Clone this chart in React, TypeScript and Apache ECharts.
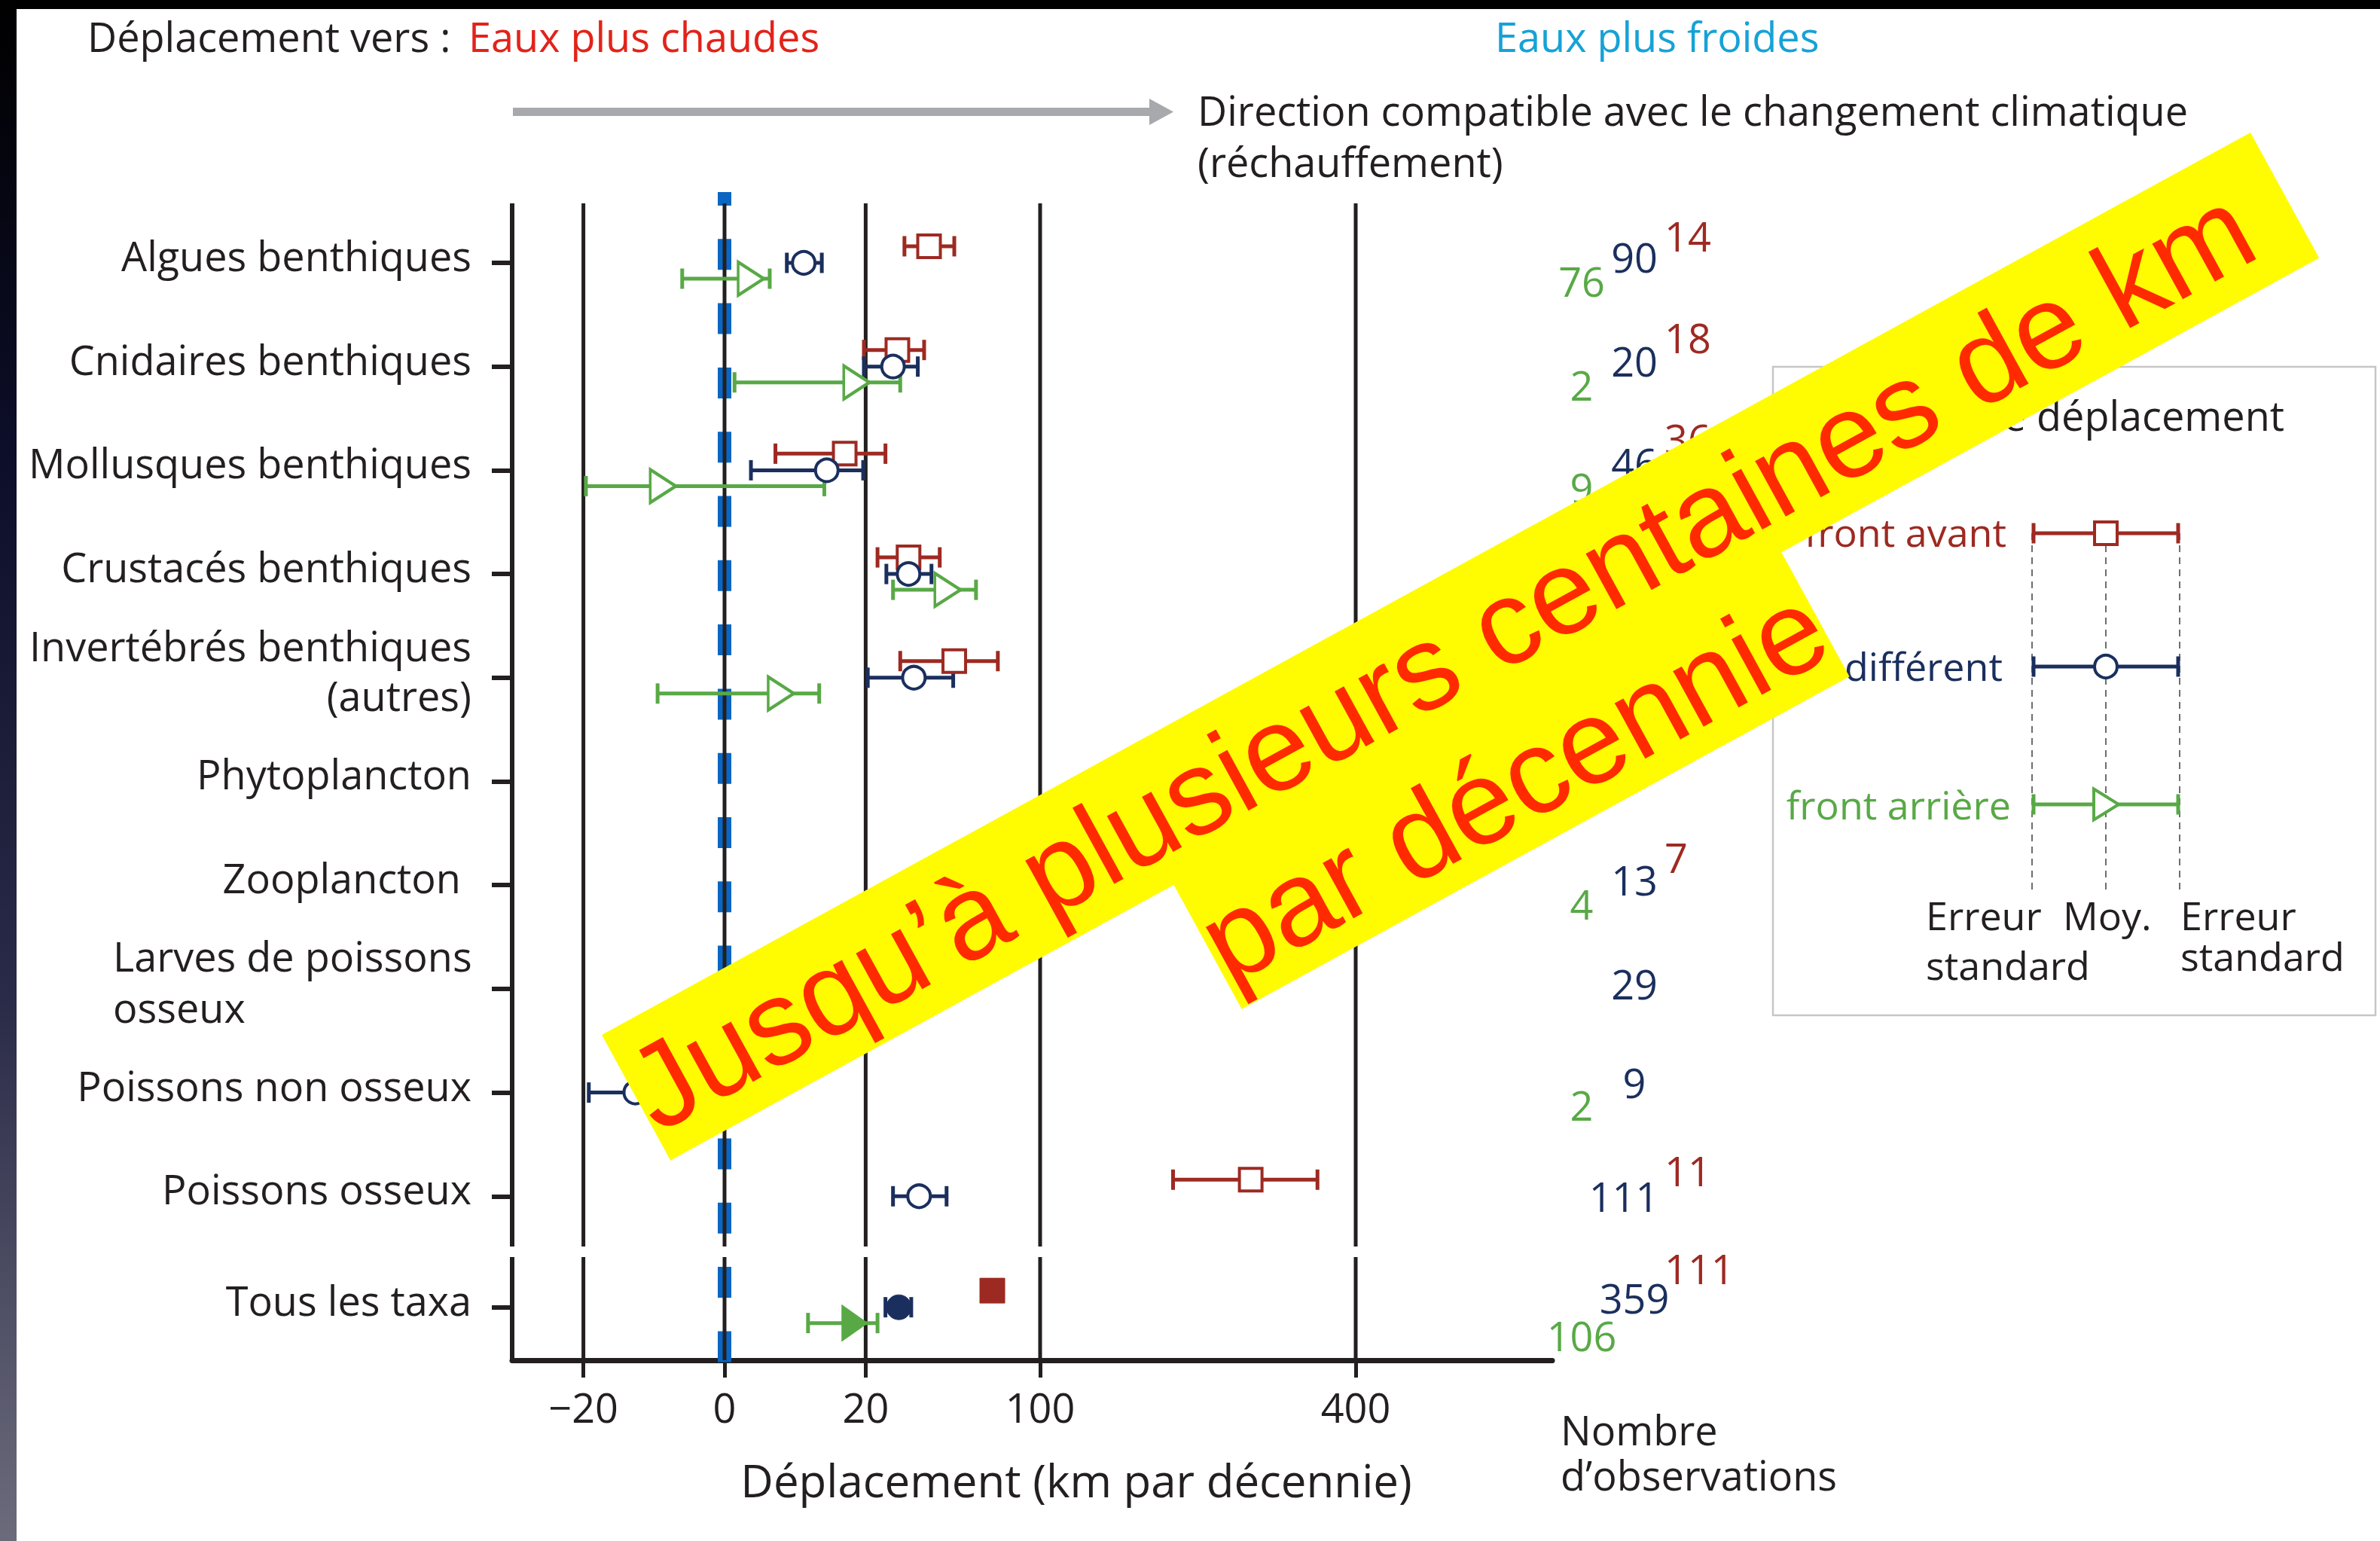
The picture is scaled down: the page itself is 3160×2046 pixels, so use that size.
import React, { useEffect, useRef } from 'react';
import * as echarts from 'echarts';

// ---------------- data ----------------
const CATEGORIES = [
  'Algues benthiques',
  'Cnidaires benthiques',
  'Mollusques benthiques',
  'Crustacés benthiques',
  'Invertébrés benthiques\n(autres)',
  'Phytoplancton',
  'Zooplancton',
  'Larves de poissons\nosseux',
  'Poissons non osseux',
  'Poissons osseux',
  'Tous les taxa',
];
// row positions on the category (value) axis; the last row sits a little lower
const ROW_POS = [0, 1, 2, 3, 4, 5, 6, 7, 8, 9, 10.07];

// front avant (leading edge), km per decade
const LEAD_MEAN = [42, 30, 14.5, 34, 53, 470, 142, null, null, 278, 72];
const LEAD_LO = [32.5, 19.5, 2.6, 23.5, 31, 355, 113, null, null, 202, 69];
const LEAD_HI = [53, 40, 26, 46.5, 75, 585, 171, null, null, 353, 75];
// centre / différent
const CENTRE_MEAN = [6.3, 28.5, 10.5, 34, 36, null, 60, 30, -8, 38, 30.5];
const CENTRE_LO = [3.9, 19.5, 0.7, 26.3, 20.6, null, 45, 18, -18.5, 28.5, 26];
const CENTRE_HI = [9.5, 37.5, 19.3, 43, 52.5, null, 78, 43, 1, 49.5, 35];
// front arrière (trailing edge)
const TRAIL_MEAN = [0.7, 17.5, -3.8, 50, 3.2, null, 45, null, -2, null, 17];
const TRAIL_LO = [-1.8, 0.1, -19.3, 28.5, -4.5, null, 35, null, -5, null, 7];
const TRAIL_HI = [2.05, 31, 10, 63.5, 9, null, 56, null, 0, null, 23.5];

// number of observations
const N_LEAD = [14, 18, 36, 13, 12, null, 7, null, null, 11, 111];
const N_CENTRE = [90, 20, 46, 15, 18, null, 13, 29, 9, 111, 359];
const N_TRAIL = [76, 2, 9, 7, 6, null, 4, null, 2, null, 106];

const X_TICKS = [-20, 0, 20, 100, 400];
const X_TICK_LABELS = ['−20', '0', '20', '100', '400'];

// ---------------- layout / style ----------------
const FONT = "'Open Sans', 'Noto Sans', sans-serif";
const BANNER_FONT = "'Liberation Sans', Arial, sans-serif";
const DARK = '#231f20';
const RED = '#9d2a22';
const BLUE = '#1b2f5e';
const GREEN = '#58a946';
const ZERO_BLUE = '#0b66c3';
const YELLOW = '#fffb00';

const LEAD_DY = [-36, -39, -42, -37, -37, -37, -37, -37, -37, -34, -52];
const CENTRE_DY = [-8, -8, -10, -8, -8, -8, -7, -7, -14, 0, -13];
const TRAIL_DY = [24, 24, 23, 24, 24, 24, 25, 24, 16, 24, 37];
const CENTRE_X_SHIFT = [0, 0, 0, 0, 0, 0, 0, 0, 0, -14, 0];

const X_MIN = -6.73;
const X_MAX = 26.229;
const Y_MIN = -0.5737;
const Y_MAX = 10.581;
const Y_GAP1 = 9.4844;
const Y_GAP2 = 9.586;
const OFF_LEAD = -0.16;
const OFF_TRAIL = 0.1525;

const toT = (v: number) => Math.sign(v) * Math.sqrt(Math.abs(v));

function errorBarSeries(lo: (number | null)[], hi: (number | null)[], off: number, color: string) {
  const data: number[][] = [];
  lo.forEach((l, i) => {
    const h = hi[i];
    if (l == null || h == null) return;
    data.push([toT(l), toT(h), ROW_POS[i] + off]);
  });
  return {
    type: 'custom',
    z: 3,
    silent: true,
    clip: false,
    data,
    renderItem: (params: any, api: any) => {
      const y = api.value(2);
      const a = api.coord([api.value(0), y]);
      const b = api.coord([api.value(1), y]);
      const c = 13.5;
      const st = { stroke: color, lineWidth: 5 };
      return {
        type: 'group',
        children: [
          { type: 'line', shape: { x1: a[0], y1: a[1], x2: b[0], y2: b[1] }, style: st },
          { type: 'line', shape: { x1: a[0], y1: a[1] - c, x2: a[0], y2: a[1] + c }, style: st },
          { type: 'line', shape: { x1: b[0], y1: b[1] - c, x2: b[0], y2: b[1] + c }, style: st },
        ],
      };
    },
  };
}

function markerSeries(mean: (number | null)[], off: number, color: string, symbol: string, size: any, rotate: number) {
  const last = CATEGORIES.length - 1;
  const data: any[] = [];
  mean.forEach((m, i) => {
    if (m == null) return;
    const item: any = { value: [toT(m), ROW_POS[i] + off] };
    if (i === last) {
      item.itemStyle = { color, borderColor: color, borderWidth: 1 };
      item.symbolSize = Array.isArray(size) ? [size[0] + 4, size[1]] : size + 3;
    }
    data.push(item);
  });
  return {
    type: 'scatter',
    z: 4,
    silent: true,
    symbol,
    symbolSize: size,
    symbolRotate: rotate,
    itemStyle: { color: '#ffffff', borderColor: color, borderWidth: 4, opacity: 1 },
    data,
  };
}

function countSeries(counts: (number | null)[], dy: number[], dx: number[] | null, x: number, align: string, color: string) {
  const data: number[][] = [];
  counts.forEach((n, i) => {
    if (n == null) return;
    data.push([ROW_POS[i], n, dy[i], dx ? dx[i] : 0]);
  });
  return {
    type: 'custom',
    z: 4,
    silent: true,
    clip: false,
    data,
    renderItem: (params: any, api: any) => {
      const y = api.coord([0, api.value(0)])[1];
      return {
        type: 'text',
        x: x + api.value(3),
        y: y + api.value(2),
        style: {
          text: String(api.value(1)),
          fill: color,
          fontSize: 54,
          fontFamily: FONT,
          align,
          verticalAlign: 'middle',
        },
      };
    },
  };
}

function buildOption() {
  const gridX = [X_MIN, ...X_TICKS.map(toT)];
  const vlineData: number[][] = [];
  gridX.forEach((x, k) => {
    const w = k === 0 ? 6 : 5;
    vlineData.push([x, Y_MIN, Y_GAP1, w]);
    vlineData.push([x, Y_GAP2, Y_MAX, w]);
  });

  const textEl = (x: number, y: number, text: string, fill: string, size = 54, align = 'left') => ({
    type: 'text',
    x,
    y,
    z: 20,
    style: { text, fill, fontSize: size, fontFamily: FONT, align, verticalAlign: 'middle' },
  });

  const legendBar = (y: number, color: string) => [
    { type: 'line', z: 21, shape: { x1: 2700, y1: y, x2: 2892, y2: y }, style: { stroke: color, lineWidth: 5 } },
    { type: 'line', z: 21, shape: { x1: 2700, y1: y - 13.5, x2: 2700, y2: y + 13.5 }, style: { stroke: color, lineWidth: 5 } },
    { type: 'line', z: 21, shape: { x1: 2892, y1: y - 13.5, x2: 2892, y2: y + 13.5 }, style: { stroke: color, lineWidth: 5 } },
  ];

  const graphics: any[] = [
    // frame strips
    { type: 'rect', z: 200, shape: { x: 0, y: 0, width: 3160, height: 12 }, style: { fill: '#000' } },
    {
      type: 'rect', z: 200, shape: { x: 0, y: 0, width: 22, height: 2046 },
      style: {
        fill: new echarts.graphic.LinearGradient(0, 0, 0, 1, [
          { offset: 0, color: '#000000' },
          { offset: 0.3, color: '#0d0e2a' },
          { offset: 0.65, color: '#2a2b48' },
          { offset: 1, color: '#6c6b7c' },
        ]),
      },
    },
    // header
    textEl(116, 48, 'Déplacement vers :', DARK),
    textEl(622, 48, 'Eaux plus chaudes', '#e2231a'),
    textEl(1985, 48, 'Eaux plus froides', '#16a2d6'),
    { type: 'line', z: 20, shape: { x1: 681, y1: 148.5, x2: 1530, y2: 148.5 }, style: { stroke: '#a7a9ac', lineWidth: 11 } },
    { type: 'polygon', z: 20, shape: { points: [[1526, 131], [1558, 148.5], [1526, 166]] }, style: { fill: '#a7a9ac' } },
    textEl(1590, 146, 'Direction compatible avec le changement climatique', DARK),
    textEl(1590, 214, '(réchauffement)', DARK),
    // observations title
    textEl(2072, 1898, 'Nombre', DARK),
    textEl(2072, 1958, 'd’observations', DARK),
    // legend box
    { type: 'rect', z: 10, shape: { x: 2354, y: 487, width: 800, height: 861 }, style: { fill: '#fff', stroke: '#c6c6c6', lineWidth: 2.5 } },
    textEl(3033, 551, 'Type de déplacement', DARK, 54, 'right'),
    textEl(2664, 705, 'front avant', RED, 52, 'right'),
    textEl(2659, 883, 'différent', BLUE, 52, 'right'),
    textEl(2670, 1067, 'front arrière', GREEN, 52, 'right'),
    ...[2698, 2796, 2894].map((x) => ({
      type: 'line', z: 20, shape: { x1: x, y1: 708, x2: x, y2: 1185 },
      style: { stroke: '#6d6e71', lineWidth: 2, lineDash: [9, 7] },
    })),
    ...legendBar(708, RED),
    ...legendBar(885, BLUE),
    ...legendBar(1068, GREEN),
    { type: 'rect', z: 22, shape: { x: 2781, y: 693, width: 30, height: 30 }, style: { fill: '#fff', stroke: RED, lineWidth: 4 } },
    { type: 'circle', z: 22, shape: { cx: 2796, cy: 885, r: 15 }, style: { fill: '#fff', stroke: BLUE, lineWidth: 4 } },
    { type: 'polygon', z: 22, shape: { points: [[2780, 1047.5], [2813, 1068], [2780, 1088.5]] }, style: { fill: '#fff', stroke: GREEN, lineWidth: 4 } },
    textEl(2557, 1214, 'Erreur', DARK, 52),
    textEl(2557, 1280, 'standard', DARK, 52),
    textEl(2739, 1214, 'Moy.', DARK, 52),
    textEl(2895, 1214, 'Erreur', DARK, 52),
    textEl(2895, 1268, 'standard', DARK, 52),
    // banner
    {
      type: 'group',
      x: 799,
      y: 1374,
      rotation: Math.atan2(1197, 2190),
      z: 100,
      children: [
        { type: 'rect', z: 100, shape: { x: 0, y: 0, width: 2496, height: 190 }, style: { fill: YELLOW } },
        { type: 'rect', z: 100, shape: { x: 762, y: 189, width: 920, height: 189 }, style: { fill: YELLOW } },
        {
          type: 'text', z: 101, x: 2, y: 96,
          style: { text: 'Jusqu’à plusieurs centaines de km', fill: '#ff2a00', fontSize: 159, fontFamily: BANNER_FONT, align: 'left', verticalAlign: 'middle' },
        },
        {
          type: 'text', z: 101, x: 762, y: 288,
          style: { text: 'par décennie', fill: '#ff2a00', fontSize: 159, fontFamily: BANNER_FONT, align: 'left', verticalAlign: 'middle' },
        },
      ],
    },
  ];

  return {
    animation: false,
    backgroundColor: '#ffffff',
    textStyle: { fontFamily: FONT },
    grid: { left: 680, right: 1099, top: 270, bottom: 240 },
    xAxis: {
      type: 'value',
      min: X_MIN,
      max: X_MAX,
      splitLine: { show: false },
      axisLine: { show: true, onZero: false, lineStyle: { color: DARK, width: 7 } },
      axisTick: { show: true, customValues: X_TICKS.map(toT), length: 23, lineStyle: { color: DARK, width: 5 } },
      axisLabel: {
        customValues: X_TICKS.map(toT),
        fontSize: 54,
        fontFamily: FONT,
        color: DARK,
        margin: 35,
        formatter: (val: number) => {
          let best = 0;
          X_TICKS.forEach((t, i) => {
            if (Math.abs(toT(t) - val) < Math.abs(toT(X_TICKS[best]) - val)) best = i;
          });
          return X_TICK_LABELS[best];
        },
      },
      name: 'Déplacement (km par décennie)',
      nameLocation: 'middle',
      nameGap: 129,
      nameTextStyle: { fontSize: 60, fontFamily: FONT, color: DARK, padding: [0, 0, 0, 117] },
    },
    yAxis: {
      type: 'value',
      inverse: true,
      min: Y_MIN,
      max: Y_MAX,
      splitLine: { show: false },
      axisLine: { show: false, onZero: false },
      axisTick: { show: true, customValues: ROW_POS, length: 27, lineStyle: { color: DARK, width: 6 } },
      axisLabel: {
        customValues: ROW_POS,
        fontSize: 54,
        fontFamily: FONT,
        color: DARK,
        margin: 54,
        lineHeight: 66,
        padding: [0, 0, 20, 0],
        formatter: (val: number) => {
          const i = ROW_POS.findIndex((p) => Math.abs(p - val) < 0.01);
          if (i < 0) return '';
          const name = CATEGORIES[i];
          if (name.startsWith('Larves')) return name.split('\n').map((s) => `{l|${s}}`).join('\n');
          if (name === 'Zooplancton') return name + '\u00a0';
          return name;
        },
        rich: {
          l: { width: 476, align: 'left', fontSize: 54, fontFamily: FONT, color: DARK, lineHeight: 68 },
        },
      },
    },
    series: [
      {
        type: 'custom',
        z: 1,
        silent: true,
        clip: false,
        data: [[0, -0.6826, 10.61]],
        renderItem: (params: any, api: any) => {
          const a = api.coord([api.value(0), api.value(1)]);
          const b = api.coord([api.value(0), api.value(2)]);
          return {
            type: 'line',
            shape: { x1: a[0], y1: a[1], x2: b[0], y2: b[1] },
            style: { stroke: ZERO_BLUE, lineWidth: 18, lineDash: [41, 44.3], lineDashOffset: 22.5 },
          };
        },
      },
      {
        type: 'custom',
        z: 2,
        silent: true,
        clip: false,
        data: vlineData,
        renderItem: (params: any, api: any) => {
          const a = api.coord([api.value(0), api.value(1)]);
          const b = api.coord([api.value(0), api.value(2)]);
          return {
            type: 'line',
            shape: { x1: a[0], y1: a[1], x2: b[0], y2: b[1] },
            style: { stroke: DARK, lineWidth: api.value(3) },
          };
        },
      },
      errorBarSeries(LEAD_LO, LEAD_HI, OFF_LEAD, RED),
      errorBarSeries(CENTRE_LO, CENTRE_HI, 0, BLUE),
      errorBarSeries(TRAIL_LO, TRAIL_HI, OFF_TRAIL, GREEN),
      markerSeries(LEAD_MEAN, OFF_LEAD, RED, 'rect', 30, 0),
      markerSeries(CENTRE_MEAN, 0, BLUE, 'circle', 30, 0),
      markerSeries(TRAIL_MEAN, OFF_TRAIL, GREEN, 'triangle', [44, 34], -90),
      countSeries(N_TRAIL, TRAIL_DY, null, 2100, 'center', GREEN),
      countSeries(N_CENTRE, CENTRE_DY, CENTRE_X_SHIFT, 2170, 'center', BLUE),
      countSeries(N_LEAD, LEAD_DY, null, 2210, 'left', RED),
    ],
    graphic: { elements: graphics },
  };
}

export default function App() {
  const ref = useRef<HTMLDivElement>(null);
  useEffect(() => {
    if (!ref.current) return;
    const chart = echarts.init(ref.current, null, { renderer: 'svg' });
    chart.setOption(buildOption() as any);
    return () => chart.dispose();
  }, []);
  return (
    <div
      ref={ref}
      style={{ position: 'fixed', left: 0, top: 0, width: 3160, height: 2046, background: '#fff' }}
    />
  );
}
